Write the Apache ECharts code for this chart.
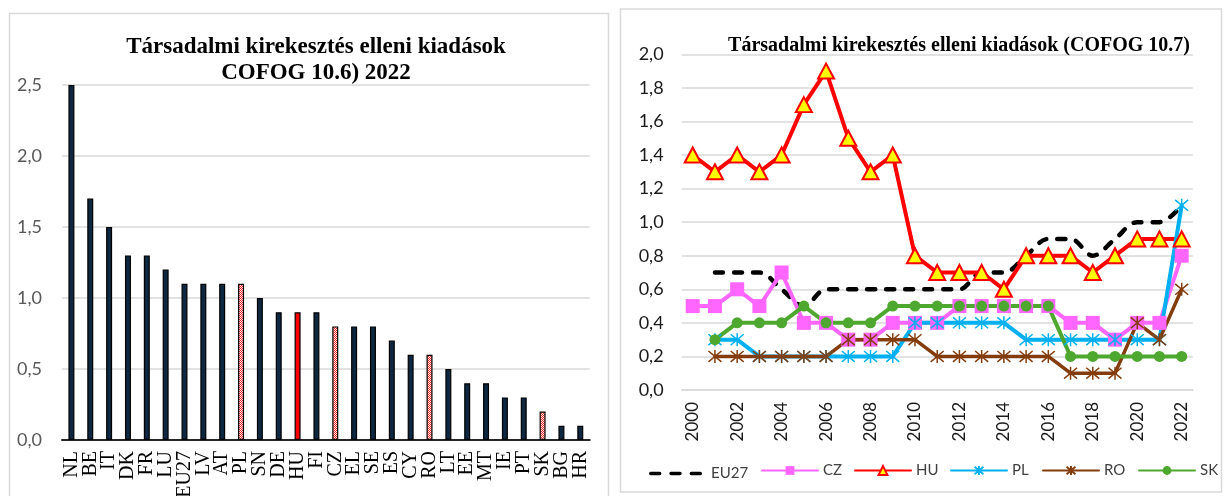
<!DOCTYPE html>
<html>
<head>
<meta charset="utf-8">
<title>Társadalmi kirekesztés elleni kiadások</title>
<script src="https://cdn.jsdelivr.net/npm/echarts@6/dist/echarts.min.js"></script>
<style>
  html, body { margin: 0; padding: 0; background: #ffffff; }
  #chart { width: 1225px; height: 496px; }
</style>
</head>
<body>
<div id="chart"></div>
<script>
// COFOG 10.6, 2022 – spending by country (% of GDP)
const countries = ['NL','BE','IT','DK','FR','LU','EU27','LV','AT','PL','SN','DE','HU','FI','CZ','EL','SE','ES','CY','RO','LT','EE','MT','IE','PT','SK','BG','HR'];
const spending2022 = [2.5,1.7,1.5,1.3,1.3,1.2,1.1,1.1,1.1,1.1,1.0,0.9,0.9,0.9,0.8,0.8,0.8,0.7,0.6,0.6,0.5,0.4,0.4,0.3,0.3,0.2,0.1,0.1];
const highlightCountry = ['HU'];
const peerCountries = ['PL','CZ','RO','SK'];
const barTicks = [0, 0.5, 1.0, 1.5, 2.0, 2.5];

// COFOG 10.7 time series, 2000–2022
const years = ['2000','2001','2002','2003','2004','2005','2006','2007','2008','2009','2010','2011','2012','2013','2014','2015','2016','2017','2018','2019','2020','2021','2022'];
const eu27 = [null,0.7,0.7,0.7,0.6,0.5,0.6,0.6,0.6,0.6,0.6,0.6,0.6,0.7,0.7,0.8,0.9,0.9,0.8,0.9,1.0,1.0,1.1];
const cz   = [0.5,0.5,0.6,0.5,0.7,0.4,0.4,0.3,0.3,0.4,0.4,0.4,0.5,0.5,0.5,0.5,0.5,0.4,0.4,0.3,0.4,0.4,0.8];
const hu   = [1.4,1.3,1.4,1.3,1.4,1.7,1.9,1.5,1.3,1.4,0.8,0.7,0.7,0.7,0.6,0.8,0.8,0.8,0.7,0.8,0.9,0.9,0.9];
const pl   = [null,0.3,0.3,0.2,0.2,0.2,0.2,0.2,0.2,0.2,0.4,0.4,0.4,0.4,0.4,0.3,0.3,0.3,0.3,0.3,0.3,0.3,1.1];
const ro   = [null,0.2,0.2,0.2,0.2,0.2,0.2,0.3,0.3,0.3,0.3,0.2,0.2,0.2,0.2,0.2,0.2,0.1,0.1,0.1,0.4,0.3,0.6];
const sk   = [null,0.3,0.4,0.4,0.4,0.5,0.4,0.4,0.4,0.5,0.5,0.5,0.5,0.5,0.5,0.5,0.5,0.2,0.2,0.2,0.2,0.2,0.2];
const lineTicks = [0, 0.2, 0.4, 0.6, 0.8, 1.0, 1.2, 1.4, 1.6, 1.8, 2.0];

const NUM_FONT = 'Lato, "Open Sans", sans-serif';
const SERIF = '"Liberation Serif", "Times New Roman", serif';
const GRID_GRAY = '#d9d9d9';
const comma = v => v.toFixed(1).replace('.', ',');

// red dotted fill used for the peer countries
function dottedFill() {
  const c = document.createElement('canvas');
  c.width = 2; c.height = 2;
  const g = c.getContext('2d');
  g.fillStyle = '#ffffff'; g.fillRect(0, 0, 2, 2);
  g.fillStyle = '#ff2020';
  g.fillRect(0, 0, 1, 1); g.fillRect(1, 1, 1, 1);
  return c;
}
const dotPattern = { image: dottedFill(), repeat: 'repeat' };

function barStyle(country) {
  let color = '#0e2841';
  if (highlightCountry.includes(country)) color = '#ff0000';
  else if (peerCountries.includes(country)) color = dotPattern;
  return { color: color, borderColor: '#000000', borderWidth: 1.2 };
}

const barData = countries.map((c, i) => ({ value: spending2022[i], itemStyle: barStyle(c) }));

// asterisk marker drawn as strokes
const ASTERISK = 'path://M0,0L10,10M10,0L0,10M5,-1L5,11';

function lineSeries(name, data, color, extra) {
  return Object.assign({
    name: name, type: 'line', xAxisIndex: 1, yAxisIndex: 1,
    data: data,
    showAllSymbol: true,
    lineStyle: { color: color, width: 4, cap: 'round', join: 'round' },
    itemStyle: { color: color },
    emphasis: { disabled: true },
    animation: false
  }, extra);
}

const seriesNames = ['EU27', 'CZ', 'HU', 'PL', 'RO', 'SK'];
const legendLeft = [649, 761, 854, 950, 1042, 1138];

const chart = echarts.init(document.getElementById('chart'), null, { renderer: 'canvas' });

chart.setOption({
  backgroundColor: '#ffffff',
  animation: false,
  graphic: [
    { type: 'rect', shape: { x: 9.5, y: 13.5, width: 599, height: 500 }, style: { fill: 'none', stroke: GRID_GRAY, lineWidth: 1.5 }, silent: true, z: -1 },
    { type: 'rect', shape: { x: 620.5, y: 9, width: 601, height: 483 }, style: { fill: 'none', stroke: GRID_GRAY, lineWidth: 1.5 }, silent: true, z: -1 }
  ],
  title: [
    {
      text: 'Társadalmi kirekesztés elleni kiadások\nCOFOG 10.6) 2022',
      left: 311, top: 29, textAlign: 'center',
      textStyle: { fontFamily: SERIF, fontWeight: 'bold', fontSize: 23, lineHeight: 26, color: '#000000' }
    },
    {
      text: 'Társadalmi kirekesztés elleni kiadások (COFOG 10.7)',
      left: 954, top: 31, textAlign: 'center',
      textStyle: { fontFamily: SERIF, fontWeight: 'bold', fontSize: 20, color: '#000000' }
    }
  ],
  legend: seriesNames.map((n, i) => {
    const l = {
      data: [n], left: legendLeft[i], top: 463,
      itemWidth: 56, itemHeight: 11, itemGap: 0, padding: 0,
      selectedMode: false,
      textStyle: { fontFamily: NUM_FONT, fontSize: 15, color: '#404040', padding: [0, 0, 0, 0] }
    };
    if (n === 'EU27') {
      l.data = [{ name: n, icon: 'path://M1.5,0H9.5A1.5,1.5 0 0 1 9.5,3H1.5A1.5,1.5 0 0 1 1.5,0Z M19.5,0H27.5A1.5,1.5 0 0 1 27.5,3H19.5A1.5,1.5 0 0 1 19.5,0Z M37.5,0H45.5A1.5,1.5 0 0 1 45.5,3H37.5A1.5,1.5 0 0 1 37.5,0Z' }];
      l.itemWidth = 53; l.itemHeight = 5; l.top = 466;
      l.itemStyle = { color: '#000000' };
      l.textStyle.padding = [0, 0, 0, 4];
    }
    return l;
  }),
  grid: [
    { left: 62, right: 1225 - 589.7, top: 85, bottom: 496 - 440, outerBoundsMode: 'none', containLabel: false },
    { left: 681.6, right: 1225 - 1192.8, top: 54.3, bottom: 496 - 390, outerBoundsMode: 'none', containLabel: false }
  ],
  xAxis: [
    {
      type: 'category', gridIndex: 0, data: countries,
      axisLine: { lineStyle: { color: '#262626', width: 2 } },
      axisTick: { show: false },
      axisLabel: { interval: 0, rotate: 90, margin: 11, fontFamily: SERIF, fontSize: 20, color: '#000000' }
    },
    {
      type: 'category', gridIndex: 1, data: years,
      axisLine: { lineStyle: { color: GRID_GRAY, width: 1.5 } },
      axisTick: { show: false },
      axisLabel: { interval: 1, rotate: 90, margin: 12, fontFamily: NUM_FONT, fontSize: 17, color: '#1a1a1a' }
    }
  ],
  yAxis: [
    {
      type: 'value', gridIndex: 0,
      min: barTicks[0], max: barTicks[barTicks.length - 1], interval: barTicks[1] - barTicks[0],
      axisLine: { show: false }, axisTick: { show: false },
      splitLine: { lineStyle: { color: GRID_GRAY, width: 1.5 } },
      axisLabel: { margin: 20, fontFamily: NUM_FONT, fontSize: 18, color: '#595959', formatter: comma }
    },
    {
      type: 'value', gridIndex: 1,
      min: lineTicks[0], max: lineTicks[lineTicks.length - 1], interval: lineTicks[1] - lineTicks[0],
      axisLine: { show: false }, axisTick: { show: false },
      splitLine: { lineStyle: { color: GRID_GRAY, width: 1.5 } },
      axisLabel: { margin: 18, fontFamily: NUM_FONT, fontSize: 18, color: '#1a1a1a', formatter: comma }
    }
  ],
  series: [
    {
      name: 'COFOG 10.6', type: 'bar', xAxisIndex: 0, yAxisIndex: 0,
      data: barData, barWidth: 6, emphasis: { disabled: true }, animation: false
    },
    lineSeries('EU27', eu27, '#000000', {
      smooth: 0.35, symbol: 'none',
      lineStyle: { color: '#000000', width: 4.5, type: [8, 11], cap: 'round', join: 'round' }
    }),
    lineSeries('CZ', cz, '#ff66ff', { symbol: 'rect', symbolSize: 14 }),
    lineSeries('HU', hu, '#ff0000', {
      symbol: 'triangle', symbolSize: [16, 15],
      itemStyle: { color: '#ffff00', borderColor: '#ff0000', borderWidth: 2 }
    }),
    lineSeries('PL', pl, '#00b0f0', {
      symbol: ASTERISK, symbolSize: 13,
      itemStyle: { color: '#00b0f0', borderColor: '#00b0f0', borderWidth: 1.5 }
    }),
    lineSeries('RO', ro, '#843c0c', {
      symbol: ASTERISK, symbolSize: 13,
      lineStyle: { color: '#843c0c', width: 3.5, cap: 'round', join: 'round' },
      itemStyle: { color: '#843c0c', borderColor: '#843c0c', borderWidth: 1.5 }
    }),
    lineSeries('SK', sk, '#4ea72e', { symbol: 'circle', symbolSize: 11 })
  ]
});
</script>
</body>
</html>
